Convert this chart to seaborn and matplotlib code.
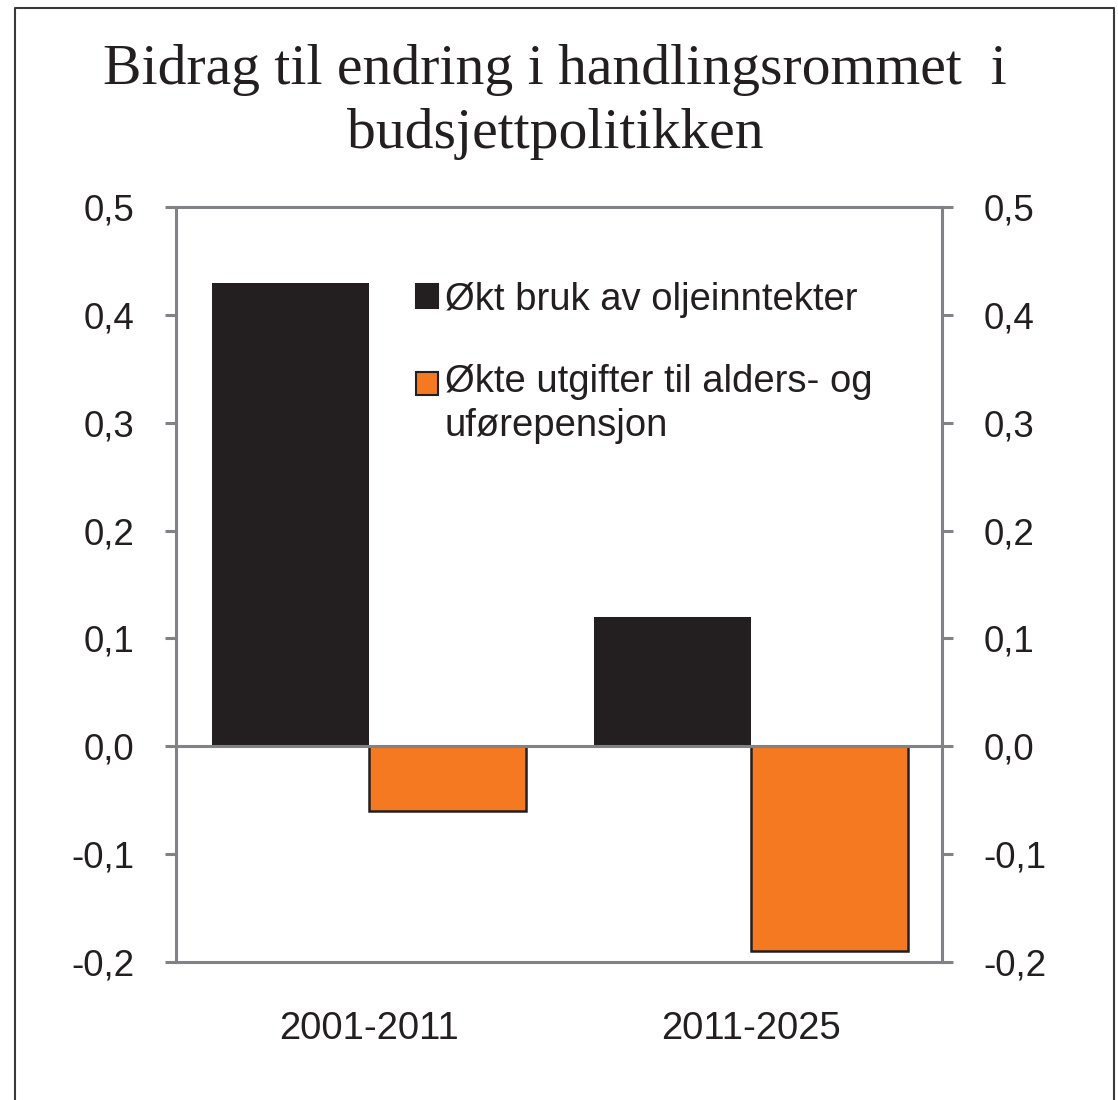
import matplotlib
import matplotlib.pyplot as plt
import seaborn as sns
import pandas as pd
from matplotlib.ticker import FuncFormatter
from matplotlib.lines import Line2D

periods = ["2001-2011", "2011-2025"]
oil_use = [0.43, 0.12]
pension_costs = [-0.06, -0.19]
series_names = ["Økt bruk av oljeinntekter",
                "Økte utgifter til alders- og\nuførepensjon"]
yticks = [-0.2, -0.1, 0.0, 0.1, 0.2, 0.3, 0.4, 0.5]

black = "#231F20"
orange = "#F47920"
grey = "#808285"

df = pd.DataFrame({
    "periode": periods * 2,
    "verdi": oil_use + pension_costs,
    "serie": [series_names[0]] * 2 + [series_names[1]] * 2,
})

sns.set_theme(style="white")
plt.rcParams['font.family'] = ['Liberation Sans', 'DejaVu Sans']

fig = plt.figure(figsize=(11.18, 11.0), dpi=100)
ax = fig.add_axes([0.1574, 0.1255, 0.6852, 0.6863])

sns.barplot(data=df, x="periode", y="verdi", hue="serie",
            palette=[black, orange], width=0.82, saturation=1,
            linewidth=0, ax=ax)

# orange bars get a thin dark outline
for bar in ax.patches:
    fc = matplotlib.colors.to_hex(bar.get_facecolor())
    if fc.lower() == orange.lower():
        bar.set_edgecolor(black)
        bar.set_linewidth(1.8)

ax.axhline(0, color=grey, lw=2.2, zorder=3)
ax.set_ylim(-0.2, 0.5)
ax.set_xlim(-0.505, 1.5)
ax.set_yticks(yticks)
ax.yaxis.set_major_formatter(FuncFormatter(lambda v, p: f"{v:.1f}".replace(".", ",")))
ax.set_xlabel("")
ax.set_ylabel("")

for s in ax.spines.values():
    s.set_visible(True)
    s.set_color(grey)
    s.set_linewidth(2.2)

ax.tick_params(axis="y", which="both", left=True, right=True,
               labelleft=True, labelright=True, direction="out",
               length=8, width=2.2, color=grey, pad=22,
               labelsize=26.5, labelcolor=black)
ax.tick_params(axis="x", bottom=False, pad=29, labelsize=27.5,
               labelcolor=black)

leg = ax.legend(loc="upper left", bbox_to_anchor=(0.313, 0.901),
                frameon=False, fontsize=27.5, handlelength=0.58,
                handleheight=0.58, handletextpad=0.18, labelspacing=1.2,
                borderpad=0, borderaxespad=0)
for t in leg.get_texts():
    t.set_color(black)
    t.set_linespacing(1.3)
for h in leg.legend_handles:
    h.set_edgecolor(black)
    h.set_linewidth(1.5)
# put the second marker next to the first line of its two-line label
leg.legend_handles[1].set_y(leg.legend_handles[1].get_y() + 15)

fig.text(0.4965, 0.855, "Bidrag til endring i handlingsrommet  i\nbudsjettpolitikken",
         ha="center", va="bottom", fontsize=41.5, linespacing=1.28,
         family=["Liberation Serif", "DejaVu Serif"], color=black)

# frame around the whole figure (left, top, right)
fig.add_artist(Line2D([15 / 1118, 15 / 1118, 1114 / 1118, 1114 / 1118],
                      [0, 1 - 8 / 1100, 1 - 8 / 1100, 0],
                      transform=fig.transFigure, color="#3a3a3a", lw=1.5))

fig.savefig("out.png", dpi=100)
